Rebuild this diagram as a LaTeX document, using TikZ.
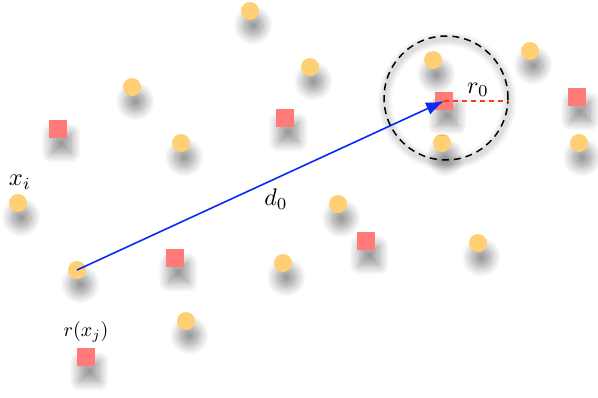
\documentclass[tikz,border=0pt]{standalone}
\usetikzlibrary{shadows.blur,arrows.meta}
\definecolor{dotcol}{HTML}{FFD073}
\definecolor{sqcol}{HTML}{FF7A78}
\definecolor{arrcol}{HTML}{0A2AF5}
\definecolor{rcol}{HTML}{FF3A1A}
\tikzset{
  shad/.style={blur shadow={shadow xshift=3pt,shadow yshift=-13pt,shadow blur radius=9pt,shadow blur steps=12,shadow scale=1.1,shadow opacity=42}},
  dot/.style={circle,fill=dotcol,minimum size=18pt,inner sep=0pt,shad},
  sq/.style={rectangle,fill=sqcol,minimum size=18pt,inner sep=0pt,shad},
  lbl/.style={inner sep=0pt},
}
\begin{document}
\begin{tikzpicture}[x=1pt,y=-1pt]
\useasboundingbox (0,0) rectangle (598,397);
% ring halo
\foreach \w in {14,10,7,4} {
  \draw[black,opacity=0.035,line width=\w pt] (447,101) circle (62);
}
% dots
\node[dot] (c1) at (250,11) {};
\node[dot] (c2) at (132,87) {};
\node[dot] (c3) at (310,67) {};
\node[dot] (c4) at (433,60) {};
\node[dot] (c5) at (530,51) {};
\node[dot] (c6) at (181,143) {};
\node[dot] (c7) at (442,143) {};
\node[dot] (c8) at (579,143) {};
\node[dot] (c9) at (18,203) {};
\node[dot] (c10) at (338,204) {};
\node[dot] (c11) at (478,243) {};
\node[dot] (c12) at (77,270) {};
\node[dot] (c13) at (283,263) {};
\node[dot] (c14) at (186,321) {};
% squares
\node[sq] (s1) at (58,129) {};
\node[sq] (s2) at (285,118) {};
\node[sq] (s3) at (444,101) {};
\node[sq] (s4) at (577,97) {};
\node[sq] (s5) at (175,258) {};
\node[sq] (s6) at (366,241) {};
\node[sq] (s7) at (86,357) {};
% ring
\node[circle,draw=black,line width=1.5pt,dash pattern=on 7pt off 5pt,minimum size=124pt,inner sep=0pt] (ring) at (446,98) {};
% connectors
\draw[draw=rcol,line width=1.2pt,dash pattern=on 5pt off 4pt] (s3.center) -- (s3.center -| ring.east);
\draw[draw=arrcol,fill=arrcol,line width=1.6pt,-{Latex[length=18pt,width=13pt]}] (c12.center) -- (s3.center);
% labels
\node[lbl] (lx) at (20,182) {\scalebox{2.45}{$x_i$}};
\node[lbl] (ld) at (276,199) {\scalebox{2.4}{$d_0$}};
\node[lbl] (lr) at (478,90) {\scalebox{2.4}{$r_0$}};
\node[lbl] (lrx) at (86,332) {\scalebox{2.0}{$r(x_j)$}};
\end{tikzpicture}
\end{document}
